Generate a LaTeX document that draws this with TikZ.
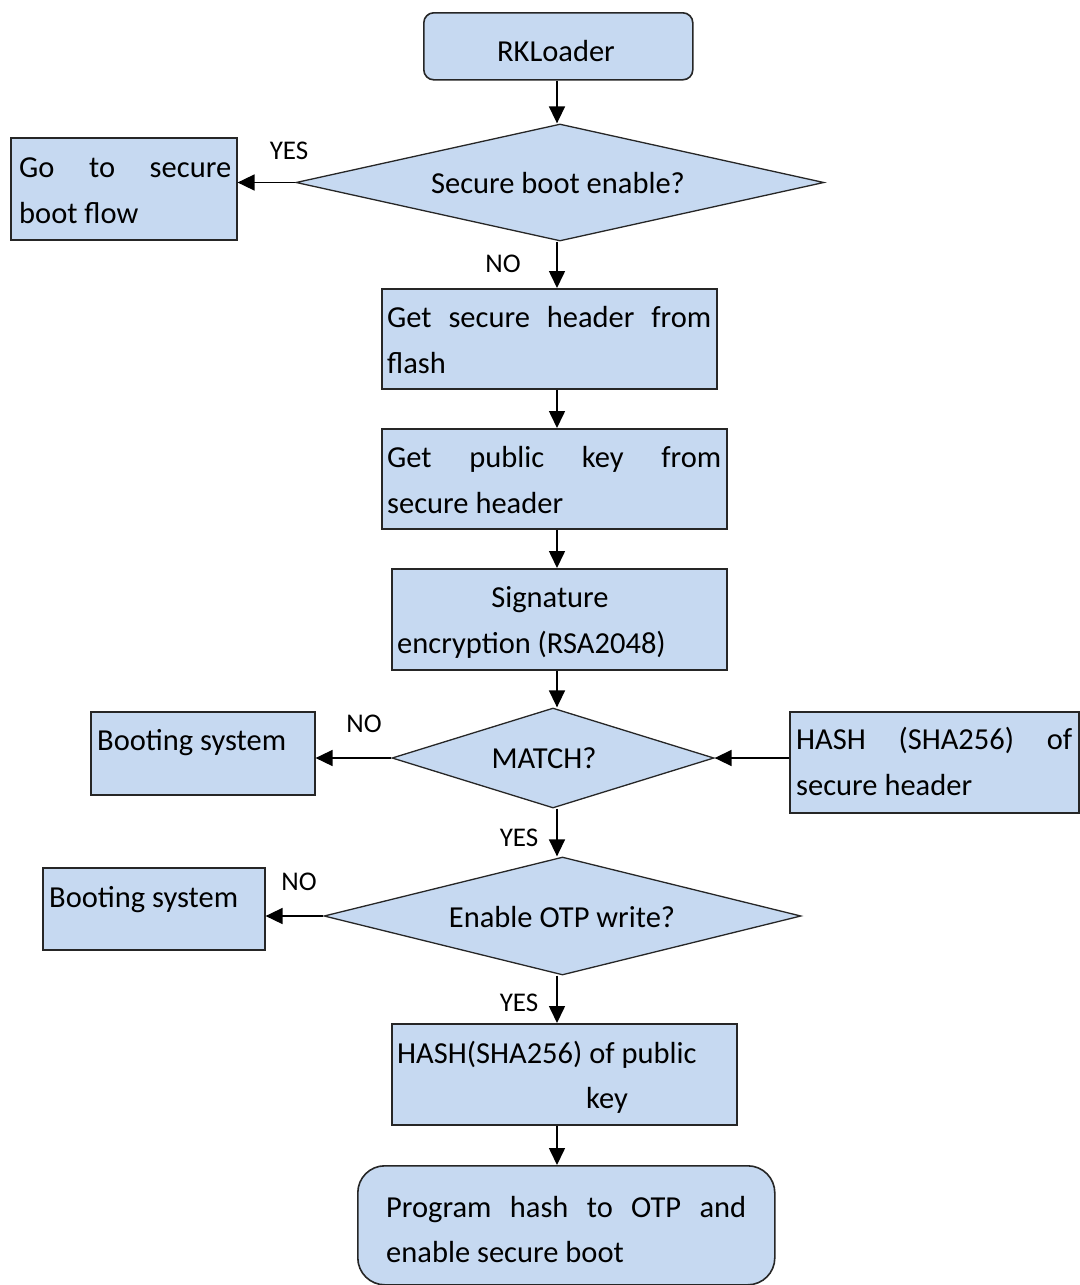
\documentclass[tikz,border=0pt]{standalone}
\usepackage{fontspec}
\setmainfont{Carlito}
\usetikzlibrary{shapes.geometric,arrows.meta}
\definecolor{boxfill}{HTML}{C6D9F1}
\definecolor{edgec}{HTML}{262626}
\begin{document}
\begin{tikzpicture}[x=1pt,y=-1pt,
  box/.style={draw=edgec,fill=boxfill,line width=1.6pt,rectangle,inner sep=0pt,anchor=north west},
  rbox/.style={box,rounded corners=#1},
  dia/.style={draw=edgec,fill=boxfill,line width=1.3pt,diamond,inner sep=0pt},
  txt/.style={inner sep=0pt,font=\fontsize{30.5}{46}\selectfont,anchor=base west},
  lbl/.style={inner sep=0pt,font=\fontsize{27}{32}\selectfont,anchor=base},
  arr/.style={line width=1.6pt,-{Triangle[length=17pt,width=16pt]}}]
\useasboundingbox (0,0) rectangle (1079,1285);
\fill[white] (0,0) rectangle (1079,1285);
\coordinate (col) at (557,0);
% boxes
\node[rbox=10pt, minimum width=269pt, minimum height=67pt] (rk) at (423,12) {};
\node[dia, minimum width=528pt, minimum height=117pt] (d1) at (560,182.5) {};
\node[box, minimum width=226pt, minimum height=102pt] (go) at (10,137) {};
\node[box, minimum width=335pt, minimum height=100pt] (b1) at (381,288) {};
\node[box, minimum width=345pt, minimum height=100pt] (b2) at (381,428) {};
\node[box, minimum width=335pt, minimum height=101pt] (b3) at (391,568) {};
\node[dia, minimum width=322pt, minimum height=100pt] (m) at (553,758) {};
\node[box, minimum width=224pt, minimum height=83pt] (bs1) at (90,711) {};
\node[box, minimum width=289pt, minimum height=101pt] (hs) at (789,711) {};
\node[dia, minimum width=477pt, minimum height=118pt] (en) at (562.5,916) {};
\node[box, minimum width=222pt, minimum height=82pt] (bs2) at (42,867) {};
\node[box, minimum width=345pt, minimum height=101pt] (hp) at (391,1023) {};
\node[rbox=27pt, minimum width=417pt, minimum height=119pt] (pg) at (357,1165) {};
% connectors
\draw[arr] (rk.south -| col) -- (d1.north -| col);
\draw[arr] (d1.west) -- (d1.west -| go.east);
\draw[arr] (d1.south -| col) -- (b1.north -| col);
\draw[arr] (b1.south -| col) -- (b2.north -| col);
\draw[arr] (b2.south -| col) -- (b3.north -| col);
\draw[arr] (b3.south -| col) -- (m.north -| col);
\draw[arr] (m.west) -- (m.west -| bs1.east);
\draw[arr] (hs.west |- m.east) -- (m.east);
\draw[arr] (m.south -| col) -- (en.north -| col);
\draw[arr] (en.west) -- (en.west -| bs2.east);
\draw[arr] (en.south -| col) -- (hp.north -| col);
\draw[arr] (hp.south -| col) -- (pg.north -| col);
% texts
\node[txt,anchor=base] (t0) at (556,61) {RKLoader};
\node[txt] (t1) at (19,177) {\makebox[212pt][s]{Go to secure}};
\node[txt] (t2) at (19,223) {boot flow};
\node[txt,anchor=base] (t3) at (558,193) {Secure boot enable?};
\node[txt] (t4a) at (387,327) {\makebox[324pt][s]{Get secure header from}};
\node[txt] (t4b) at (387,373) {flash};
\node[txt] (t5a) at (387,467) {\makebox[334pt][s]{Get public key from}};
\node[txt] (t5b) at (387,513) {secure header};
\node[txt,anchor=base] (t6a) at (550,607) {Signature};
\node[txt] (t6b) at (397,653) {encryption (RSA2048)};
\node[txt,anchor=base] (t7) at (544,768) {MATCH?};
\node[txt] (t8) at (97,750) {Booting system};
\node[txt] (t9a) at (796,749) {\makebox[276pt][s]{HASH (SHA256) of}};
\node[txt] (t9b) at (796,795) {secure header};
\node[txt,anchor=base] (t10) at (562,927) {Enable OTP write?};
\node[txt] (t11) at (49,907) {Booting system};
\node[txt] (t12a) at (397,1063) {HASH(SHA256) of public};
\node[txt] (t12b) at (586,1108) {key};
\node[txt] (t13a) at (386,1217) {\makebox[360pt][s]{Program hash to OTP and}};
\node[txt] (t13b) at (386,1262) {enable secure boot};
% labels
\node[lbl] (l1) at (289,159) {YES};
\node[lbl] (l2) at (503,272) {NO};
\node[lbl] (l3) at (364,732) {NO};
\node[lbl] (l4) at (519,846) {YES};
\node[lbl] (l5) at (299,890) {NO};
\node[lbl] (l6) at (519,1011) {YES};
\end{tikzpicture}
\end{document}
